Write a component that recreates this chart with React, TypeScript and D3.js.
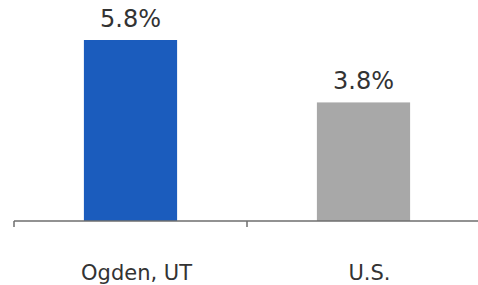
import React, { useEffect, useRef } from 'react';
import * as d3 from 'd3';

const categories = ['Ogden, UT', 'U.S.'];
const values = [5.8, 3.8];
const colors = ['#1b5cbd', '#a8a8a8'];

const width = 478;
const height = 285;
const margin = { top: 40, right: -2, bottom: 64, left: 14 };

export default function App() {
  const svgRef = useRef<SVGSVGElement>(null);

  useEffect(() => {
    document.body.style.margin = '0';
    if (!svgRef.current) return;
    const svg = d3.select(svgRef.current);
    svg.selectAll('*').remove();

    const innerWidth = width - margin.left - margin.right;
    const innerHeight = height - margin.top - margin.bottom;

    const x = d3.scaleBand<string>()
      .domain(categories)
      .range([0, innerWidth])
      .paddingInner(0.6)
      .paddingOuter(0.3);

    // band edges for the axis ticks (between categories)
    const step = x.step();

    const y = d3.scaleLinear()
      .domain([0, d3.max(values) || 0])
      .range([innerHeight, 0]);

    const g = svg.append('g')
      .attr('transform', `translate(${margin.left},${margin.top})`);

    // Bars
    g.selectAll('rect.bar')
      .data(values)
      .join('rect')
      .attr('class', 'bar')
      .attr('x', (_, i) => x(categories[i])!)
      .attr('y', d => y(d))
      .attr('width', x.bandwidth())
      .attr('height', d => innerHeight - y(d))
      .attr('fill', (_, i) => colors[i]);

    // Value labels
    g.selectAll('text.value')
      .data(values)
      .join('text')
      .attr('class', 'value')
      .attr('x', (_, i) => x(categories[i])! + x.bandwidth() / 2)
      .attr('y', d => y(d) - 13)
      .attr('text-anchor', 'middle')
      .attr('font-family', 'DejaVu Sans, sans-serif')
      .attr('font-size', 24)
      .attr('fill', '#333')
      .text(d => `${d.toFixed(1)}%`);

    // Axis line
    const axis = g.append('g').attr('transform', `translate(0,${innerHeight})`);
    axis.append('line')
      .attr('x1', 0)
      .attr('x2', innerWidth)
      .attr('y1', 0)
      .attr('y2', 0)
      .attr('stroke', '#6e6e6e')
      .attr('stroke-width', 1.5);

    // Ticks at band boundaries
    const tickXs = categories.map((_, i) => i * step);
    axis.selectAll('line.tick')
      .data(tickXs)
      .join('line')
      .attr('class', 'tick')
      .attr('x1', d => d)
      .attr('x2', d => d)
      .attr('y1', 0)
      .attr('y2', 6)
      .attr('stroke', '#6e6e6e')
      .attr('stroke-width', 1.5);

    // Category labels
    axis.selectAll('text.cat')
      .data(categories)
      .join('text')
      .attr('class', 'cat')
      .attr('x', d => x(d)! + x.bandwidth() / 2 + 6)
      .attr('y', 59)
      .attr('text-anchor', 'middle')
      .attr('font-family', 'DejaVu Sans, sans-serif')
      .attr('font-size', 21)
      .attr('fill', '#333')
      .text(d => d);
  }, []);

  return <svg ref={svgRef} width={width} height={height} style={{ display: 'block', background: '#fff' }} />;
}
